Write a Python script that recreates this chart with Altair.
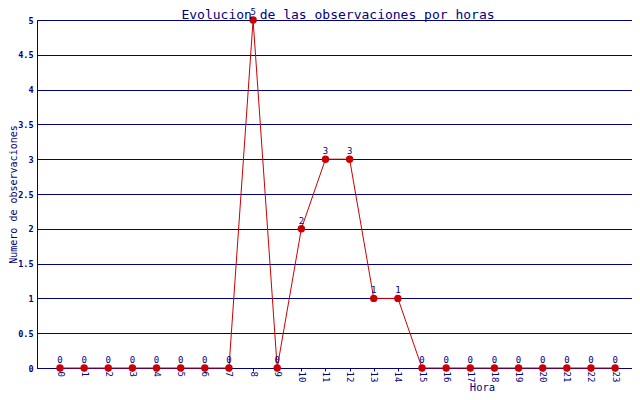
import altair as alt
import pandas as pd

hours = list(range(24))
counts = [0, 0, 0, 0, 0, 0, 0, 0, 5, 0, 2, 3, 3, 1, 1, 0, 0, 0, 0, 0, 0, 0, 0, 0]
y_ticks = [0, 0.5, 1, 1.5, 2, 2.5, 3, 3.5, 4, 4.5, 5]
title_text = ["Evolucion de las observaciones por horas"]

df = pd.DataFrame({"hora": hours, "n": counts})
df_title = pd.DataFrame({"t": title_text})

NAVY = "#000080"
RED = "#cc0000"
FONT = "DejaVu Sans Mono"

x = alt.X("hora:Q",
          scale=alt.Scale(domain=[-0.953, 23.7], nice=False, zero=False),
          axis=alt.Axis(values=hours, labelAngle=90, title="Hora",
                        titleX=445, titleY=22, titleBaseline="alphabetic",
                        titleFontSize=10.5, labelFontSize=9, tickSize=3,
                        labelPadding=0, grid=False, labelFlush=False,
                        labelOverlap=False, labelFont=FONT, titleFont=FONT,
                        labelColor=NAVY, titleColor=NAVY, domainColor=NAVY,
                        tickColor=NAVY, titleFontWeight="normal",
                        labelFontWeight="normal"))
y = alt.Y("n:Q",
          scale=alt.Scale(domain=[0, 5], nice=False),
          axis=alt.Axis(values=y_ticks, format=".1~f", title="Numero de observaciones",
                        titleX=-29, titleBaseline="top", titleFontSize=10,
                        labelFontSize=8.5, tickSize=0, labelPadding=4,
                        labelFont=FONT, titleFont=FONT,
                        labelColor=NAVY, titleColor=NAVY, domainColor=NAVY,
                        titleFontWeight="normal", labelFontWeight="bold",
                        grid=True, gridColor=NAVY, gridOpacity=1, gridWidth=1))

base = alt.Chart(df)
line = base.mark_line(color=RED, strokeWidth=1).encode(x=x, y=y)
points = base.mark_circle(color=RED, size=55, opacity=1).encode(x=x, y=y)
labels = base.mark_text(color=NAVY, font=FONT, fontSize=9, dy=-5,
                        baseline="alphabetic").encode(x=x, y=y, text="n:Q")
title = alt.Chart(df_title).mark_text(
    color=NAVY, font=FONT, fontSize=13, baseline="alphabetic", align="center"
).encode(x=alt.value(301), y=alt.value(-1.5), text="t:N")

chart = alt.layer(line, points, labels, title).properties(
    width=595, height=348,
    autosize=alt.AutoSizeParams(type="none"),
    padding={"left": 29, "top": 12, "right": 0, "bottom": 24},
).configure_view(stroke=NAVY, strokeWidth=1)

chart.save("out.html", embed_options={"renderer": "svg", "actions": False})
